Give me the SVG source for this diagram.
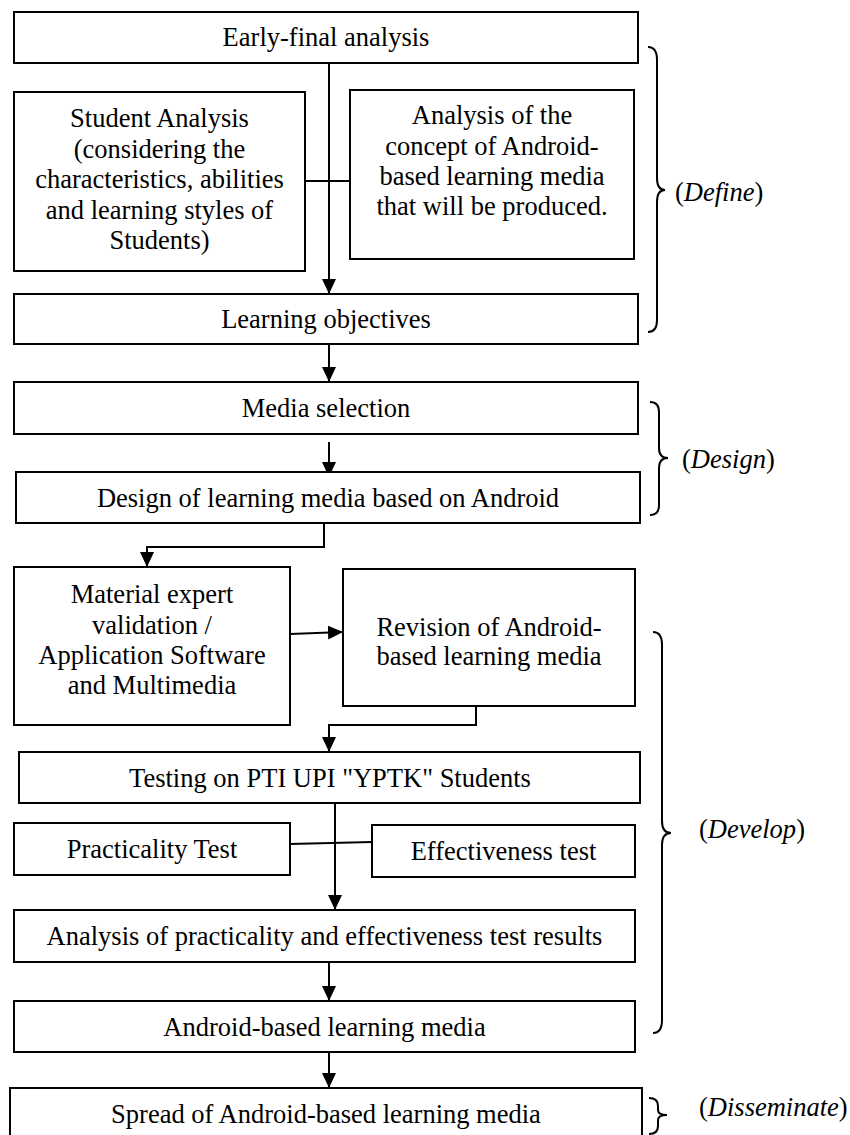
<svg xmlns="http://www.w3.org/2000/svg" width="850" height="1135" viewBox="0 0 850 1135">
<style>
.box{fill:#fff;stroke:#000;stroke-width:2}
.t{font-family:"Liberation Serif","Times New Roman",serif;font-size:26.5px;fill:#000;text-anchor:middle}
.lab{font-family:"Liberation Serif","Times New Roman",serif;font-size:26.5px;fill:#000}
.c{fill:none;stroke:#000;stroke-width:2}
.br{fill:none;stroke:#000;stroke-width:2}
</style>
<defs>
<marker id="ah" markerUnits="userSpaceOnUse" markerWidth="15" markerHeight="15" viewBox="0 0 15 14" refX="15" refY="7" orient="auto">
<path d="M0,0 L15,7 L0,14 z" fill="#000"/>
</marker>
</defs>
<rect width="850" height="1135" fill="#fff"/>

<g id="connectors">
<path class="c" d="M329,63 V294" marker-end="url(#ah)"/>
<path class="c" d="M305,181 H350"/>
<path class="c" d="M329,344 V382" marker-end="url(#ah)"/>
<path class="c" d="M329,442 V477" marker-end="url(#ah)"/>
<path class="c" d="M324,523 V547 H147 V567" marker-end="url(#ah)"/>
<path class="c" d="M290,634 L343,632" marker-end="url(#ah)"/>
<path class="c" d="M476,706 V725 H329 V752" marker-end="url(#ah)"/>
<path class="c" d="M335,803 V910" marker-end="url(#ah)"/>
<path class="c" d="M290,844 L372,842"/>
<path class="c" d="M329,962 V1001" marker-end="url(#ah)"/>
<path class="c" d="M329,1052 V1088" marker-end="url(#ah)"/>
</g>

<g id="n-early">
<rect class="box" x="14" y="12" width="624" height="51"/>
<text class="t" x="326" y="46">Early-final analysis</text>
</g>
<g id="n-student">
<rect class="box" x="14" y="92" width="291" height="179"/>
<text class="t" x="159.5" y="127">Student Analysis</text>
<text class="t" x="159.5" y="157.5">(considering the</text>
<text class="t" x="159.5" y="188">characteristics, abilities</text>
<text class="t" x="159.5" y="218.5">and learning styles of</text>
<text class="t" x="159.5" y="249">Students)</text>
</g>
<g id="n-concept">
<rect class="box" x="350" y="90" width="284" height="169"/>
<text class="t" x="492" y="124">Analysis of the</text>
<text class="t" x="492" y="154.5">concept of Android-</text>
<text class="t" x="492" y="185">based learning media</text>
<text class="t" x="492" y="215">that will be produced.</text>
</g>
<g id="n-objectives">
<rect class="box" x="14" y="294" width="624" height="50"/>
<text class="t" x="326" y="328">Learning objectives</text>
</g>
<g id="n-media">
<rect class="box" x="14" y="382" width="624" height="52"/>
<text class="t" x="326" y="417">Media selection</text>
</g>
<g id="n-design">
<rect class="box" x="16" y="472" width="624" height="51"/>
<text class="t" x="328" y="507">Design of learning media based on Android</text>
</g>
<g id="n-material">
<rect class="box" x="14" y="567" width="276" height="158"/>
<text class="t" x="152" y="603">Material expert</text>
<text class="t" x="152" y="633.5">validation /</text>
<text class="t" x="152" y="664">Application Software</text>
<text class="t" x="152" y="694">and Multimedia</text>
</g>
<g id="n-revision">
<rect class="box" x="343" y="569" width="292" height="137"/>
<text class="t" x="489" y="636">Revision of Android-</text>
<text class="t" x="489" y="665">based learning media</text>
</g>
<g id="n-testing">
<rect class="box" x="19" y="752" width="621" height="51"/>
<text class="t" x="330" y="787">Testing on PTI UPI "YPTK" Students</text>
</g>
<g id="n-practicality">
<rect class="box" x="14" y="823" width="276" height="52"/>
<text class="t" x="152" y="858">Practicality Test</text>
</g>
<g id="n-effectiveness">
<rect class="box" x="372" y="825" width="263" height="52"/>
<text class="t" x="503.5" y="860">Effectiveness test</text>
</g>
<g id="n-analysis">
<rect class="box" x="14" y="910" width="621" height="52"/>
<text class="t" x="324.5" y="945">Analysis of practicality and effectiveness test results</text>
</g>
<g id="n-android">
<rect class="box" x="14" y="1001" width="621" height="51"/>
<text class="t" x="324.5" y="1036">Android-based learning media</text>
</g>
<g id="n-spread">
<rect class="box" x="10" y="1088" width="632" height="50"/>
<text class="t" x="326" y="1123">Spread of Android-based learning media</text>
</g>

<g id="braces">
<path class="br" d="M648,47 Q657,47 657,60 V178 Q657,190 665,190 Q657,190 657,202 V320 Q657,332 648,332"/>
<path class="br" d="M650,402 Q659,402 659,412 V448 Q659,458 668,458 Q659,458 659,468 V505 Q659,515 650,515"/>
<path class="br" d="M653,632 Q662,632 662,645 V821 Q662,833 671,833 Q662,833 662,845 V1020 Q662,1033 653,1033"/>
<path class="br" d="M649,1098 Q658,1098 658,1106 V1110 Q658,1115 667,1115 Q658,1115 658,1120 V1126 Q658,1134 649,1134"/>
</g>
<g id="labels">
<text class="lab" x="675" y="201">(<tspan font-style="italic">Define</tspan>)</text>
<text class="lab" x="682" y="468">(<tspan font-style="italic">Design</tspan>)</text>
<text class="lab" x="699" y="838">(<tspan font-style="italic">Develop</tspan>)</text>
<text class="lab" x="699" y="1116">(<tspan font-style="italic">Disseminate</tspan>)</text>
</g>
</svg>
